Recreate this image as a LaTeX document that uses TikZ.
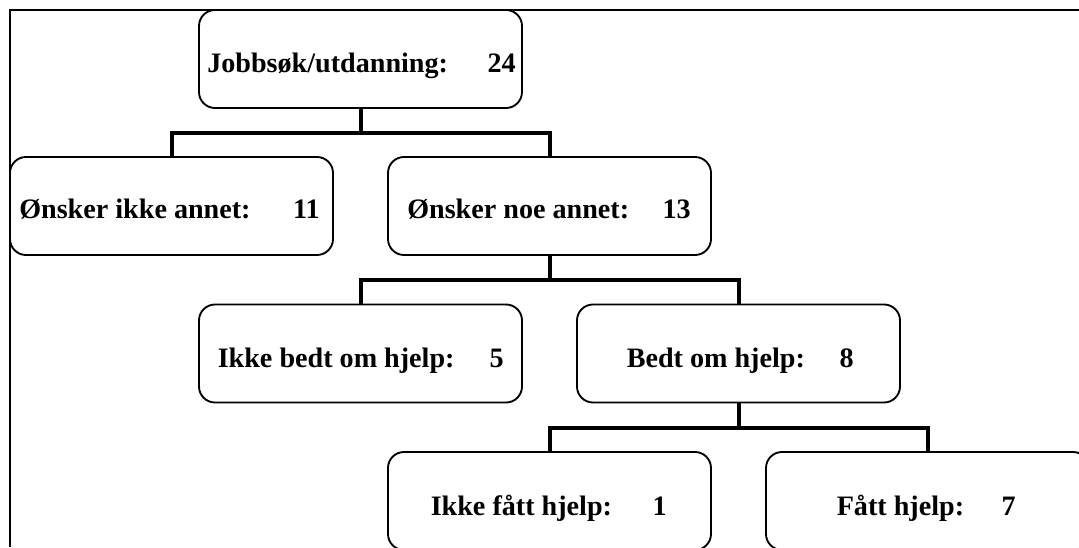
\documentclass[tikz,border=0pt]{standalone}
\usepackage{fontspec}
\setmainfont{Liberation Serif}
\usetikzlibrary{calc}
\tikzset{
  box/.style={draw=black, line width=1.4pt, rounded corners=12pt, fill=white,
    minimum width=242.25pt, minimum height=73.5pt, inner sep=0pt, outer sep=0pt},
  lbl/.style={anchor=base west, inner sep=0pt, font=\fontsize{21.1}{25}\selectfont\bfseries},
  num/.style={anchor=base east, inner sep=0pt, font=\fontsize{21.1}{25}\selectfont\bfseries},
  conn/.style={draw=black, line width=3pt},
  frameline/.style={draw=black, line width=1.5pt}
}
\begin{document}
\begin{tikzpicture}[x=0.75pt,y=-0.75pt]
\useasboundingbox (0,0) rectangle (1079,547);
\clip (0,0) rectangle (1079,547);
\draw[frameline] (9.5,547) -- (9.5,9.5) -- (1079,9.5);

\node[box] (top) at (360.5,59) {};
\node[box] (ikkeannet) at (171.5,206) {};
\node[box] (noeannet) at (549.5,206) {};
\node[box] (ikkebedt) at (360.5,353.5) {};
\node[box] (bedt) at (738.5,353.5) {};
\node[box] (ikkefatt) at (549.5,501) {};
\node[box] (fatt) at (927.5,501) {};

\node[lbl] (t1) at (207,72) {Jobbsøk/utdanning:};
\node[num] (n1) at (516,72) {24};
\node[lbl] (t2) at (19,218) {Ønsker ikke annet:};
\node[num] (n2) at (320,218) {11};
\node[lbl] (t3) at (407,218) {Ønsker noe annet:};
\node[num] (n3) at (691,218) {13};
\node[lbl] (t4) at (217.5,367) {Ikke bedt om hjelp:};
\node[num] (n4) at (504,367) {5};
\node[lbl] (t5) at (626.5,367) {Bedt om hjelp:};
\node[num] (n5) at (854,367) {8};
\node[lbl] (t6) at (430.5,515) {Ikke fått hjelp:};
\node[num] (n6) at (667,515) {1};
\node[lbl] (t7) at (836.5,515) {Fått hjelp:};
\node[num] (n7) at (1016,515) {7};

\coordinate (j1) at ($(top.south)+(0,24.5)$);
\coordinate (j2) at ($(noeannet.south)+(0,25)$);
\coordinate (j3) at ($(bedt.south)+(0,25)$);
\draw[conn] (top.south) -- (j1);
\draw[conn] (ikkeannet.north) |- (j1) -| (noeannet.north);
\draw[conn] (noeannet.south) -- (j2);
\draw[conn] (ikkebedt.north) |- (j2) -| (bedt.north);
\draw[conn] (bedt.south) -- (j3);
\draw[conn] (ikkefatt.north) |- (j3) -| (fatt.north);
\end{tikzpicture}
\end{document}
